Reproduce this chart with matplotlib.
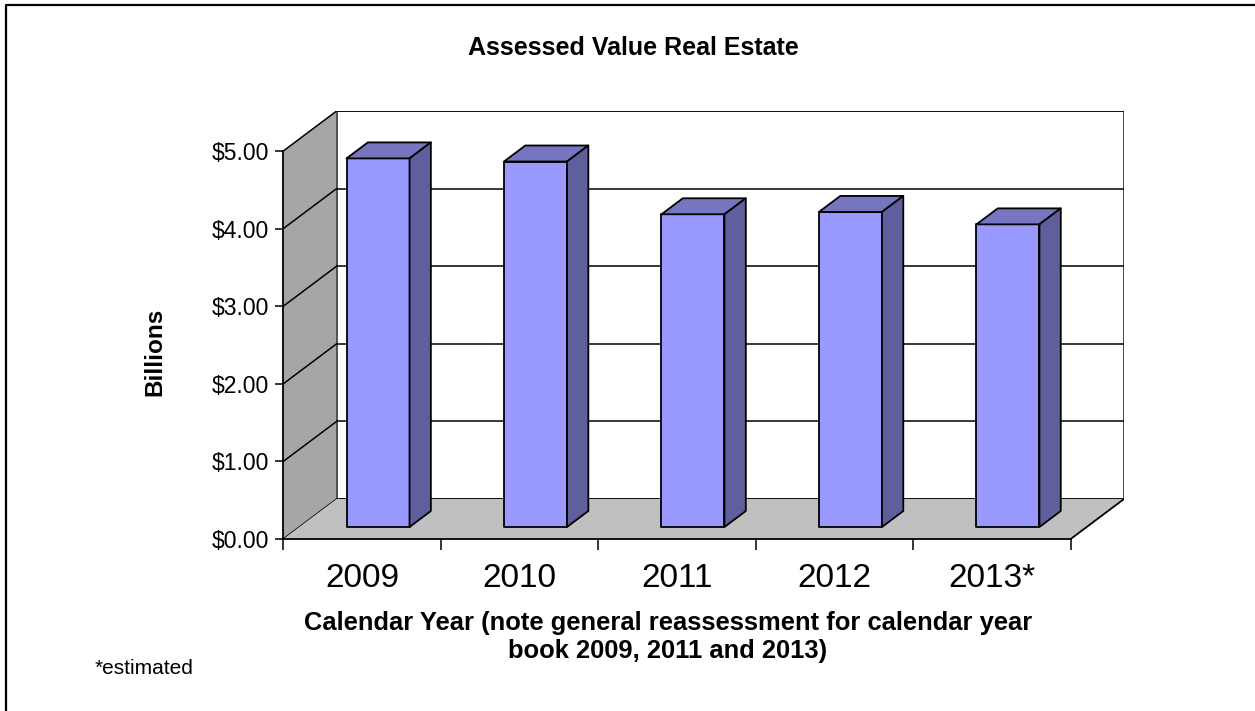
import matplotlib
matplotlib.use("Agg")
import matplotlib.pyplot as plt
from matplotlib.patches import Polygon
from matplotlib.lines import Line2D

plt.rcParams['font.family'] = ['Liberation Sans', 'DejaVu Sans']

years = ['2009', '2010', '2011', '2012', '2013*']
values = [4.75, 4.71, 4.03, 4.06, 3.90]
yticks = [0, 1, 2, 3, 4, 5]
ytick_labels = ['$%.2f' % v for v in yticks]

# depth of the 3d box in data units (x: categories, y: billions)
DX = 0.3386
DY = 0.5155
front_c = '#9999FF'
side_c = '#5F5F9E'
top_c = '#7575C0'


def proj(x, v, z):
    return (x + z * DX, v + z * DY)


fig = plt.figure(figsize=(12.55, 7.11), dpi=100)
W, H = 1255, 711
ax = fig.add_axes([283.3 / W, 1 - 539 / H, (1124 - 283.3) / W, (539 - 111) / H])
n = len(years)
ymax = yticks[-1]
ax.set_xlim(0, n + DX)
ax.set_ylim(0, ymax + DY)
ax.patch.set_visible(False)

# walls and floor
back = Polygon([proj(0, 0, 1), proj(n, 0, 1), proj(n, ymax, 1), proj(0, ymax, 1)],
               closed=True, fc='white', ec='#404040', lw=1.3, zorder=1)
left = Polygon([proj(0, 0, 0), proj(0, 0, 1), proj(0, ymax, 1), proj(0, ymax, 0)],
               closed=True, fc='#A6A6A6', ec='none', zorder=1)
floor = Polygon([proj(0, 0, 0), proj(n, 0, 0), proj(n, 0, 1), proj(0, 0, 1)],
                closed=True, fc='#C0C0C0', ec='none', zorder=3)
for p in (back, left, floor):
    ax.add_patch(p)

# back wall edge of the side wall
ax.plot(*zip(proj(0, 0, 1), proj(0, ymax, 1)), color='#505050', lw=1.3, zorder=2)
# gridlines on the back wall and side wall
for v in yticks:
    ax.plot(*zip(proj(0, v, 1), proj(n, v, 1)), color='black', lw=1.1, zorder=2)
    ax.plot(*zip(proj(0, v, 0), proj(0, v, 1)), color='black', lw=1.1, zorder=2)
# right edge of the floor
ax.plot(*zip(proj(n, 0, 0), proj(n, 0, 1)), color='black', lw=1.3, zorder=4)

# bars
for i, h in enumerate(values):
    x0, x1 = i + 0.3, i + 0.7
    z0, z1 = 0.3, 0.7
    faces = [
        ([proj(x0, 0, z0), proj(x1, 0, z0), proj(x1, h, z0), proj(x0, h, z0)], front_c),
        ([proj(x0, h, z0), proj(x1, h, z0), proj(x1, h, z1), proj(x0, h, z1)], top_c),
        ([proj(x1, 0, z0), proj(x1, 0, z1), proj(x1, h, z1), proj(x1, h, z0)], side_c),
    ]
    for pts, c in faces:
        ax.add_patch(Polygon(pts, closed=True, fc=c, ec='black', lw=1.3,
                             joinstyle='round', zorder=5))

# axes
for s in ('top', 'right'):
    ax.spines[s].set_visible(False)
ax.spines['left'].set_bounds(0, ymax)
ax.spines['bottom'].set_bounds(0, n)
for s in ('left', 'bottom'):
    ax.spines[s].set_linewidth(1.3)
    ax.spines[s].set_zorder(6)
ax.set_yticks(yticks)
ax.set_yticklabels(ytick_labels, fontsize=16.5)
ax.tick_params(axis='y', length=6, width=1.1, pad=4)
ax.set_xticks(range(n + 1))
ax.set_xticklabels([])
ax.set_xticks([i + 0.5 for i in range(n)], minor=True)
ax.set_xticklabels(years, minor=True, fontsize=24)
ax.tick_params(axis='x', which='major', length=8, width=1.1)
ax.tick_params(axis='x', which='minor', length=0, pad=17)

fig.text(633 / W, 1 - 48 / H, 'Assessed Value Real Estate', ha='center', va='center',
         fontsize=18, fontweight='bold')
fig.text(155 / W, 1 - 352 / H, 'Billions', ha='center', va='center', rotation=90,
         fontsize=17.5, fontweight='bold')
fig.text(668 / W, 1 - 637 / H,
         'Calendar Year (note general reassessment for calendar year\nbook 2009, 2011 and 2013)',
         ha='center', va='center', fontsize=18.4, fontweight='bold', linespacing=1.22)
fig.text(95 / W, 1 - 668 / H, '*estimated', ha='left', va='center', fontsize=15)

# outer frame
fig.add_artist(Line2D([6 / W, 6 / W, 1], [0, 1 - 5 / H, 1 - 5 / H],
                      transform=fig.transFigure, color='black', lw=1.6))

fig.savefig('out.png', dpi=100)
